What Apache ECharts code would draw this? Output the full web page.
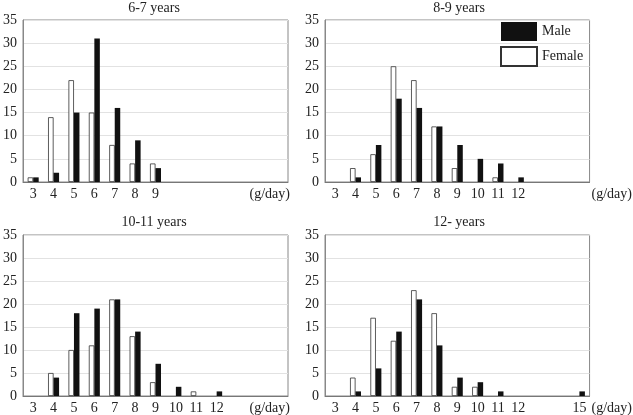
<!DOCTYPE html>
<html>
<head>
<meta charset="utf-8">
<script src="https://cdn.jsdelivr.net/npm/echarts@6/dist/echarts.min.js"></script>
<style>html,body{margin:0;padding:0;background:#fff}#c{width:633px;height:415px}</style>
</head>
<body>
<div id="c"></div>
<script>
var categories = ['3','4','5','6','7','8','9','10','11','12','13','14','15'];
var panelTitles = ['6-7 years','8-9 years','10-11 years','12- years'];
var shownLabels = [
  ['3','4','5','6','7','8','9'],
  ['3','4','5','6','7','8','9','10','11','12'],
  ['3','4','5','6','7','8','9','10','11','12'],
  ['3','4','5','6','7','8','9','10','11','12','15']
];
var female67   = [1,14,22,15,8,4,4,0,0,0,0,0,0];
var male67     = [1,2,15,31,16,9,3,0,0,0,0,0,0];
var female89   = [0,3,6,25,22,12,3,0,1,0,0,0,0];
var male89     = [0,1,8,18,16,12,8,5,4,1,0,0,0];
var female1011 = [0,5,10,11,21,13,3,0,1,0,0,0,0];
var male1011   = [0,4,18,19,21,14,7,2,0,1,0,0,0];
var female12   = [0,4,17,12,23,18,2,2,0,0,0,0,0];
var male12     = [0,1,6,14,21,11,4,3,1,0,0,0,1];
var yTicksMax = 35, yTickStep = 5;
var unitLabel = '(g/day)';

var femaleSets = [female67, female89, female1011, female12];
var maleSets = [male67, male89, male1011, male12];
function noZero(arr){ return arr.map(function(v){ return v === 0 ? '-' : v; }); }

var font = 'Liberation Serif, Times New Roman, serif';
var grids = [
  {left:20, top:20, width:268, height:162},
  {left:325, top:20, width:268, height:162},
  {left:20, top:235, width:268, height:162},
  {left:325, top:235, width:268, height:162}
];
var titleCenters = [[154,1],[459,1],[154,215],[459,215]];

var option = {
  animation:false,
  textStyle:{fontFamily:font},
  title: panelTitles.map(function(t,i){
    return {text:t, left:titleCenters[i][0], top:titleCenters[i][1], textAlign:'center', padding:0,
      textStyle:{fontFamily:font, fontSize:14, fontWeight:'normal', color:'#222'}};
  }),
  legend:{data:['Male','Female'], orient:'vertical', left:500, top:22, itemWidth:36, itemHeight:19, itemGap:5,
    icon:'rect', padding:0, textStyle:{fontFamily:font, fontSize:14, color:'#222'}},
  grid: grids.map(function(g){ return Object.assign({show:true, borderColor:'#888', borderWidth:1, backgroundColor:'#fff'}, g); }),
  xAxis: grids.map(function(g,i){
    var right = (i % 2 === 1);
    return {type:'category', gridIndex:i, data:categories,
      axisLine:{lineStyle:{color:'#777'}}, axisTick:{show:false},
      axisLabel:{interval:0, margin:5, fontFamily:font, fontSize:14, color:'#222',
        formatter:function(v){ return shownLabels[i].indexOf(v) >= 0 ? v : ''; }},
      name:unitLabel, nameLocation:'end', nameGap:2,
      nameTextStyle:{fontFamily:font, fontSize:14, color:'#222', align: right ? 'left' : 'right', verticalAlign:'top', padding:[5,0,0,0]}
    };
  }),
  yAxis: grids.map(function(g,i){
    return {type:'value', gridIndex:i, min:0, max:yTicksMax, interval:yTickStep,
      axisLine:{show:true, lineStyle:{color:'#888'}}, axisTick:{show:false},
      axisLabel:{margin:6, fontFamily:font, fontSize:14, color:'#222'},
      splitLine:{lineStyle:{color:'#e2e2e2'}}};
  }),
  series: []
};
for (var i = 0; i < 4; i++) {
  option.series.push({name:'Female', type:'bar', xAxisIndex:i, yAxisIndex:i, data:noZero(femaleSets[i]),
    barWidth:5.5, barGap:'0%', itemStyle:{color:'#fff', borderColor:'#333', borderWidth:0.8}});
  option.series.push({name:'Male', type:'bar', xAxisIndex:i, yAxisIndex:i, data:noZero(maleSets[i]),
    barWidth:5.5, barGap:'0%', itemStyle:{color:'#111'}});
}
var chart = echarts.init(document.getElementById('c'), null, {renderer:'canvas'});
chart.setOption(option);
</script>
</body>
</html>
